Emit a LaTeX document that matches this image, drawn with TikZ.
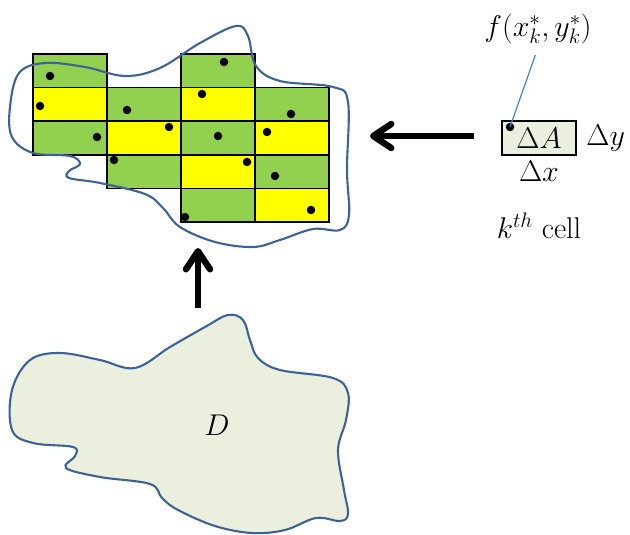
\documentclass[tikz,border=0pt]{standalone}
\usepackage{fix-cm}
\usepackage{tikz}
\usetikzlibrary{arrows.meta,positioning}
\definecolor{cellgreen}{RGB}{146,208,80}
\definecolor{cellyellow}{RGB}{255,255,0}
\definecolor{regionfill}{RGB}{234,239,222}
\definecolor{regionline}{RGB}{62,98,150}
\definecolor{pointline}{RGB}{74,130,196}

\begin{document}
\begin{tikzpicture}[x=1pt, y=-1pt,
    gcell/.style={rectangle, draw, line width=1.8pt, minimum width=74pt, minimum height=33.6pt, inner sep=0pt},
    seed/.style={circle, fill=black, inner sep=0pt, minimum size=8.5pt},
    outline/.style={draw=regionline, line width=2.1pt},
    bigarrow/.style={line width=6.5pt, -{Straight Barb[length=18pt, width=24pt, round]}},
    lbl/.style={font=\fontsize{30}{36}\selectfont}
]
\useasboundingbox (0,0) rectangle (630,535);

% Region D
\filldraw[outline, fill=regionfill] plot[smooth cycle, tension=0.6] coordinates {
    (228,315) (243,320) (250,340) (258,358) (280,370) (333,378) (348,393)
    (346,420) (338,450) (344,490) (348,514) (340,521) (316,518) (285,530)
    (252,533) (215,526) (178,510) (162,498) (150,484) (100,477) (66,468)
    (75,456) (73,447) (33,443) (12,430) (12,390) (30,360) (60,353)
    (100,360) (135,368) (170,347) (205,327)};
\node[lbl] (dlabel) at (217,425) {$D$};

% Grid of cells
\foreach \col/\row/\clr in {0/0/cellgreen, 2/0/cellgreen,
    0/1/cellyellow, 1/1/cellgreen, 2/1/cellyellow, 3/1/cellgreen,
    0/2/cellgreen, 1/2/cellyellow, 2/2/cellgreen, 3/2/cellyellow,
    1/3/cellgreen, 2/3/cellyellow, 3/3/cellgreen,
    2/4/cellgreen, 3/4/cellyellow} {
    \node[gcell, fill=\clr] (c-\col-\row) at (70+\col*74, 70.8+\row*33.6) {};
}

% Sample points
\foreach \px/\py [count=\i] in {50/76, 224/62, 40/106, 127/110, 202/94, 291/114,
    97/137, 169/127, 218/136, 267/132, 114/160, 247/162, 275/176, 185/217, 311/210} {
    \node[seed] (p\i) at (\px,\py) {};
}

% Approximating region
\draw[outline] plot[smooth cycle, tension=0.6] coordinates {
    (10,107) (19,73) (45,63) (85,67) (125,76) (160,68) (200,43) (236,26)
    (248,36) (256,66) (280,81) (333,87) (348,102) (347,170) (349,215)
    (340,230) (313,229) (280,240) (253,247) (215,242) (180,227) (163,208)
    (145,194) (100,183) (69,178) (69,171) (80,164) (70,156) (33,153) (12,137)};

% k-th cell
\node[rectangle, draw, fill=regionfill, line width=1.8pt, minimum width=74pt, minimum height=34pt, inner sep=0pt, lbl] (cellbox) at (539,138) {$\Delta A$};
\node[seed] (pk) at (510,127) {};
\node[lbl, right=6pt of cellbox] (dy) {$\Delta y$};
\node[lbl, below=2pt of cellbox] (dx) {$\Delta x$};
\node[lbl, below=24pt of dx] (kth) {$k^{th}$ cell};
\node[lbl] (fval) at (538,29) {$f(x_k^*,y_k^*)$};
\draw[pointline, line width=1.2pt, shorten <=8pt] (fval.south) -- (pk.center);

% Arrows
\coordinate (gridright) at (370,136);
\coordinate (gridbottom) at (198,248);
\coordinate (regiontop) at (198,308);
\draw[bigarrow, shorten <=27pt] (cellbox.west |- gridright) -- (gridright);
\draw[bigarrow] (regiontop) -- (gridbottom);

\end{tikzpicture}
\end{document}
